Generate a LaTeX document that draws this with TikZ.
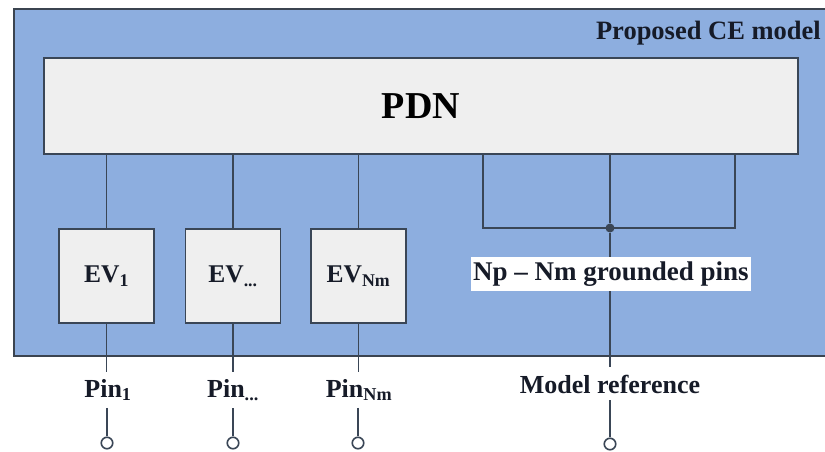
\documentclass[tikz,border=0pt]{standalone}
\usepackage{fontspec}
\setmainfont{Liberation Serif}
\definecolor{panel}{HTML}{8DAEDF}
\definecolor{boxfill}{HTML}{EFEFEF}
\definecolor{wire}{HTML}{3A4656}
\definecolor{frame}{HTML}{3B4450}
\definecolor{ink}{HTML}{161B28}
\begin{document}
\begin{tikzpicture}[x=1pt,y=-1pt,
  blk/.style={draw=wire, line width=1.8pt, fill=boxfill},
  evbox/.style={blk, minimum width=95pt, minimum height=94pt, inner sep=0pt,
    text=ink, font=\bfseries\fontsize{25.5}{25.5}\selectfont},
  lbl/.style={text=ink, font=\bfseries\fontsize{26}{26}\selectfont, inner xsep=1pt, inner ysep=7pt},
  wireline/.style={draw=wire, line width=1.9pt},
  term/.style={circle, draw=wire, line width=1.6pt, fill=white, minimum size=11.5pt, inner sep=0pt}]

\useasboundingbox (0,0) rectangle (825,452);
\clip (0,0) rectangle (825,452);
\fill[white] (0,0) rectangle (825,452);

% model enclosure (runs past the right border)
\node[draw=frame, line width=2.4pt, fill=panel, minimum width=840pt, minimum height=347pt,
      inner sep=0pt, anchor=north west] (ce) at (13,8) {};
\node[anchor=base east, inner sep=0pt, text=ink,
      font=\bfseries\fontsize{26.5}{26.5}\selectfont] (title) at (821,40) {Proposed CE model};

% power distribution network
\node[blk, minimum width=754pt, minimum height=96pt, inner sep=0pt,
      font=\bfseries\fontsize{38}{38}\selectfont] (pdn) at (421,106) {PDN};

% equivalent voltage sources
\node[evbox] (ev1) at (106.5,276) {EV\textsubscript{1}};
\node[evbox] (ev2) at (233,276) {EV\textsubscript{...}};
\node[evbox] (ev3) at (358.5,276) {EV\textsubscript{Nm}};

\draw[wireline] (pdn.south -| ev1.north) -- (ev1.north);
\draw[wireline] (pdn.south -| ev2.north) -- (ev2.north);
\draw[wireline] (pdn.south -| ev3.north) -- (ev3.north);

% grounded pins tied together
\coordinate (bl) at (483,228);
\coordinate (br) at (735,228);
\node[circle, fill=wire, minimum size=9pt, inner sep=0pt] (jn) at (610,228) {};
\draw[wireline] (pdn.south -| bl) -- (bl) -- (br) -- (pdn.south -| br);
\draw[wireline] (pdn.south -| jn) -- (jn);

% external pins
\node[lbl, anchor=base] (pin1) at (108,397) {Pin\textsubscript{1}};
\node[lbl, anchor=base] (pin2) at (233,397) {Pin\textsubscript{...}};
\node[lbl, anchor=base] (pin3) at (359,397) {Pin\textsubscript{Nm}};
\node[lbl, anchor=base] (mref) at (610,393) {Model reference};

\node[term] (t1) at (107,443) {};
\node[term] (t2) at (233,443) {};
\node[term] (t3) at (358,443) {};
\node[term] (t4) at (610,444) {};

\draw[wireline] (ev1.south) -- (ev1.south |- pin1.north);
\draw[wireline] (ev2.south) -- (ev2.south |- pin2.north);
\draw[wireline] (ev3.south) -- (ev3.south |- pin3.north);
\draw[wireline] (jn) -- (mref.north);

\draw[wireline] (t1.north |- pin1.south) -- (t1.north);
\draw[wireline] (t2.north |- pin2.south) -- (t2.north);
\draw[wireline] (t3.north |- pin3.south) -- (t3.north);
\draw[wireline] (mref.south) -- (t4.north);

\node[lbl, fill=white, inner xsep=2pt, inner ysep=4.5pt,
      font=\bfseries\fontsize{27}{27}\selectfont] (gnd) at (611,274) {Np – Nm grounded pins};
\end{tikzpicture}
\end{document}
